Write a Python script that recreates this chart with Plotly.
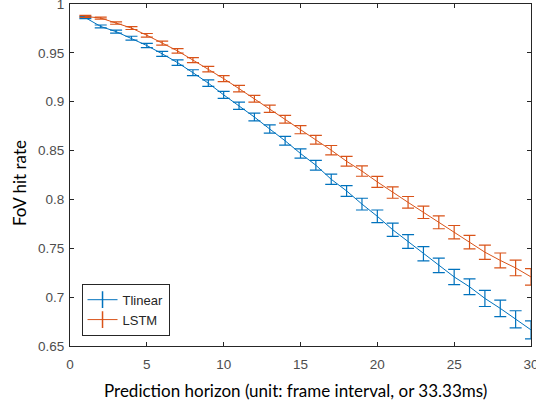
import plotly.graph_objects as go

horizon = list(range(1, 31))
tlinear = [0.986, 0.977, 0.9717, 0.965, 0.9575, 0.949, 0.940, 0.9297, 0.919, 0.907,
           0.8958, 0.8843, 0.872, 0.860, 0.847, 0.835, 0.8206, 0.8087, 0.7952, 0.7827,
           0.769, 0.7569, 0.7444, 0.7325, 0.7207, 0.7106, 0.6987, 0.6885, 0.6773, 0.6665]
tlinear_err = [0.001, 0.0015, 0.0015, 0.002, 0.0022, 0.0025, 0.0028, 0.003, 0.0033, 0.0035,
               0.0037, 0.004, 0.0042, 0.0045, 0.0047, 0.005, 0.0052, 0.0055, 0.006, 0.0065,
               0.0068, 0.007, 0.0072, 0.0075, 0.0078, 0.008, 0.0083, 0.0085, 0.0088, 0.0092]
lstm = [0.9873, 0.9856, 0.9805, 0.9754, 0.968, 0.960, 0.952, 0.9426, 0.9334, 0.9236,
        0.9134, 0.903, 0.8928, 0.882, 0.8714, 0.861, 0.8504, 0.839, 0.829, 0.8179,
        0.807, 0.797, 0.7868, 0.7766, 0.7665, 0.7563, 0.746, 0.7376, 0.7299, 0.7207]
lstm_err = [0.001, 0.001, 0.0012, 0.0015, 0.0018, 0.002, 0.0023, 0.0025, 0.0028, 0.003,
            0.0033, 0.0035, 0.0038, 0.004, 0.0042, 0.0045, 0.0048, 0.005, 0.0053, 0.0056,
            0.0058, 0.006, 0.0063, 0.0066, 0.0068, 0.007, 0.0073, 0.0076, 0.008, 0.0085]

x_ticks = [0, 5, 10, 15, 20, 25, 30]
y_ticks = [0.65, 0.7, 0.75, 0.8, 0.85, 0.9, 0.95, 1.0]
y_tick_text = ["0.65", "0.7", "0.75", "0.8", "0.85", "0.9", "0.95", "1"]
series_names = ["Tlinear", "LSTM"]
x_title = "Prediction horizon (unit: frame interval, or 33.33ms)"
y_title = "FoV hit rate"

BLUE = "#0072BD"
ORANGE = "#D95319"

fig = go.Figure()
for name, ys, errs, col in [(series_names[0], tlinear, tlinear_err, BLUE),
                            (series_names[1], lstm, lstm_err, ORANGE)]:
    fig.add_trace(go.Scatter(
        x=horizon, y=ys, mode="lines", name=name, showlegend=False,
        line=dict(color=col, width=1),
        error_y=dict(type="data", array=errs, visible=True, color=col, thickness=1.2, width=6),
        hoverinfo="skip",
    ))
    # legend-only glyph (line with vertical error-bar tick)
    fig.add_trace(go.Scatter(
        x=[None], y=[None], mode="lines+markers", name=name,
        line=dict(color=col, width=1),
        marker=dict(symbol="line-ns-open", size=12, color=col, line=dict(color=col, width=1.5)),
    ))

axis_common = dict(
    showline=True, linecolor="#262626", linewidth=1, mirror="ticks",
    ticks="inside", ticklen=4, tickcolor="#262626", showgrid=False, zeroline=False,
    automargin=False, ticklabeloverflow="allow",
    tickfont=dict(family="Liberation Sans, Arial", size=13.5, color="#4d4d4d"),
)

title_font = dict(family="Lato, Open Sans", size=17, color="black")

fig.update_layout(
    width=536, height=402,
    margin=dict(l=70, r=5, t=4, b=56),
    paper_bgcolor="white", plot_bgcolor="white",
    showlegend=True,
    legend=dict(
        x=0.025, y=0.03, xanchor="left", yanchor="bottom",
        bordercolor="#262626", borderwidth=1, bgcolor="white",
        font=dict(family="Liberation Sans, Arial", size=13, color="#262626"),
        tracegroupgap=0, itemwidth=30,
    ),
    xaxis=dict(range=[0, 30], tickvals=x_ticks, ticktext=[str(t) for t in x_ticks],
               ticklabelstandoff=6, **axis_common),
    yaxis=dict(range=[0.65, 1.0], tickvals=y_ticks, ticktext=y_tick_text,
               ticklabelstandoff=2, **axis_common),
    annotations=[
        dict(text=x_title, xref="paper", yref="paper", x=0.4902, y=-0.1287,
             xanchor="center", yanchor="middle", showarrow=False, font=title_font),
        dict(text=y_title, xref="paper", yref="paper", x=-0.1106, y=0.4766,
             xanchor="center", yanchor="middle", showarrow=False, textangle=-90, font=title_font),
    ],
)

fig.write_html("out.html", config={"displayModeBar": False},
               post_script="document.body.style.margin='0';document.body.style.overflow='hidden';")
